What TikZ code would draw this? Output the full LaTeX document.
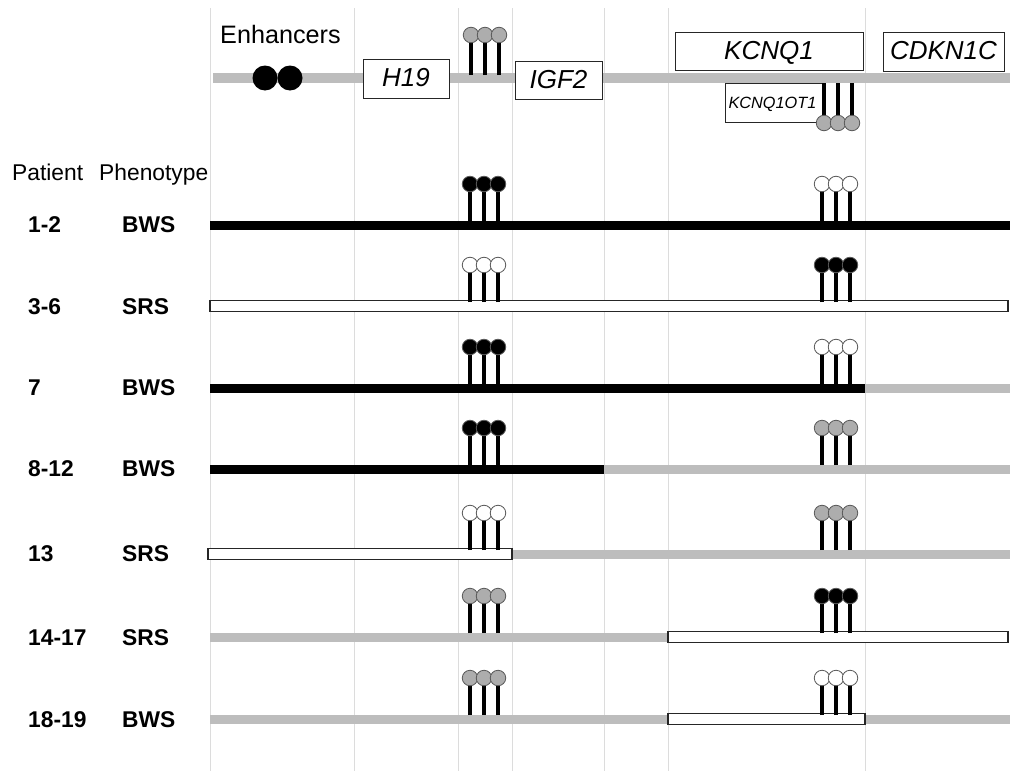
\documentclass[tikz,border=0pt]{standalone}
\usepackage{fontspec}
\setmainfont{Liberation Sans}
\definecolor{barg}{HTML}{BDBDBD}
\definecolor{lolg}{HTML}{ADADAD}
\definecolor{gridc}{HTML}{DCDCDC}
\tikzset{
  gridline/.style={draw=gridc, line width=1pt},
  graybar/.style={fill=barg},
  blackbar/.style={fill=black},
  whitebar/.style={draw=black!85, line width=1.3pt, fill=white},
  gene/.style={draw=black!85, line width=1pt, fill=white, inner sep=0pt,
    text height=16pt, text depth=0pt,
    font=\fontsize{26}{28}\selectfont\itshape},
  lolly/.style={circle, draw=black!65, line width=0.8pt, minimum size=15.5pt, inner sep=0pt},
  stick/.style={line width=3.8pt},
  hdr/.style={anchor=base west, inner sep=0pt, font=\fontsize{22.8}{24}\selectfont},
  lab/.style={anchor=base west, inner sep=0pt, font=\fontsize{22.8}{24}\selectfont\bfseries},
  enh/.style={circle, fill=black, minimum size=25pt, inner sep=0pt},
}
\newcommand\lolli[5]{% name, x, y stick end, y circle, fill
  \coordinate (#1s) at (#2,#3);
  \coordinate (#1c) at (#2,#4);
  \draw[stick] (#1s) -- (#1c);
  \node[lolly, fill=#5] (#1) at (#1c) {};
}
\newcommand\triple[5]{% prefix, x0, y stick end, y circle, fill
  \lolli{#1a}{#2}{#3}{#4}{#5}%
  \lolli{#1b}{#2+14}{#3}{#4}{#5}%
  \lolli{#1c}{#2+28}{#3}{#4}{#5}%
}
\newcommand\rowlolli[4]{% prefix, line y, ICR1 fill, ICR2 fill
  \triple{#1i}{470}{#2-4}{#2-41}{#3}%
  \triple{#1k}{822}{#2-4}{#2-41}{#4}%
}
\begin{document}
\begin{tikzpicture}[x=1pt,y=-1pt]
\useasboundingbox[fill=white] (0,0) rectangle (1010,771);
% vertical guide lines
\foreach \gx [count=\i] in {210,354,458,512,604,668,865} {
  \coordinate (gt\i) at (\gx,8);
  \coordinate (gb\i) at (\gx,771);
  \draw[gridline] (gt\i) -- (gb\i);
}
% top chromosome line
\coordinate (tl) at (213,78);
\coordinate (tr) at (1010,78);
\draw[line width=10pt, barg] (tl) -- (tr);
\node[enh] (e1) at (265,78) {};
\node[enh] (e2) at (290,78) {};
\node[hdr, font=\fontsize{25.2}{27}\selectfont] (enhtxt) at (220,43) {Enhancers};
% genes
\node[gene, minimum width=86pt, minimum height=39pt] (h19) at (406,78.5) {H19};
\node[gene, minimum width=87pt, minimum height=38pt] (igf2) at (558.5,80) {IGF2};
\node[gene, minimum width=188pt, minimum height=38pt] (kcnq1) at (769,51) {KCNQ1};
\node[gene, minimum width=121pt, minimum height=39pt] (cdkn) at (943.5,51.5) {CDKN1C};
\node[gene, minimum width=99pt, minimum height=39pt, text height=11pt,
  font=\fontsize{16.3}{18}\selectfont\itshape] (ot1) at (774.5,102.5) {\hspace*{-4pt}KCNQ1OT1};
% top lollipops
\triple{ti}{471}{75}{35}{lolg}
\triple{tk}{824}{83}{123}{lolg}
% headers
\node[hdr] (pat) at (12,180) {Patient};
\node[hdr] (phe) at (99,180) {Phenotype};
% row 1
\path[blackbar] (210,220.5) rectangle (1010,229.5);
\rowlolli{a}{225}{black}{white}
\node[lab] (p1) at (28,232) {1-2};
\node[lab] (f1) at (122,232) {BWS};
% row 2
\path[whitebar] (210,300.5) rectangle (1008,311.5);
\rowlolli{b}{306}{white}{black}
\node[lab] (p2) at (28,314) {3-6};
\node[lab] (f2) at (122,314) {SRS};
% row 3
\path[blackbar] (210,383.5) rectangle (865,392.5);
\path[graybar] (865,383.5) rectangle (1010,392.5);
\rowlolli{c}{388}{black}{white}
\node[lab] (p3) at (28,395) {7};
\node[lab] (f3) at (122,395) {BWS};
% row 4
\path[blackbar] (210,464.5) rectangle (604,473.5);
\path[graybar] (604,464.5) rectangle (1010,473.5);
\rowlolli{d}{469}{black}{lolg}
\node[lab] (p4) at (28,476) {8-12};
\node[lab] (f4) at (122,476) {BWS};
% row 5
\path[graybar] (512,549.5) rectangle (1010,558.5);
\path[whitebar] (208,548.5) rectangle (512,559.5);
\rowlolli{e}{554}{white}{lolg}
\node[lab] (p5) at (28,561) {13};
\node[lab] (f5) at (122,561) {SRS};
% row 6
\path[graybar] (210,632.5) rectangle (668,641.5);
\path[whitebar] (668,631.5) rectangle (1008,642.5);
\rowlolli{f}{637}{lolg}{black}
\node[lab] (p6) at (28,645) {14-17};
\node[lab] (f6) at (122,645) {SRS};
% row 7
\path[graybar] (210,714.5) rectangle (1010,723.5);
\path[whitebar] (668,713.5) rectangle (865,724.5);
\rowlolli{g}{719}{lolg}{white}
\node[lab] (p7) at (28,727) {18-19};
\node[lab] (f7) at (122,727) {BWS};
\end{tikzpicture}
\end{document}
